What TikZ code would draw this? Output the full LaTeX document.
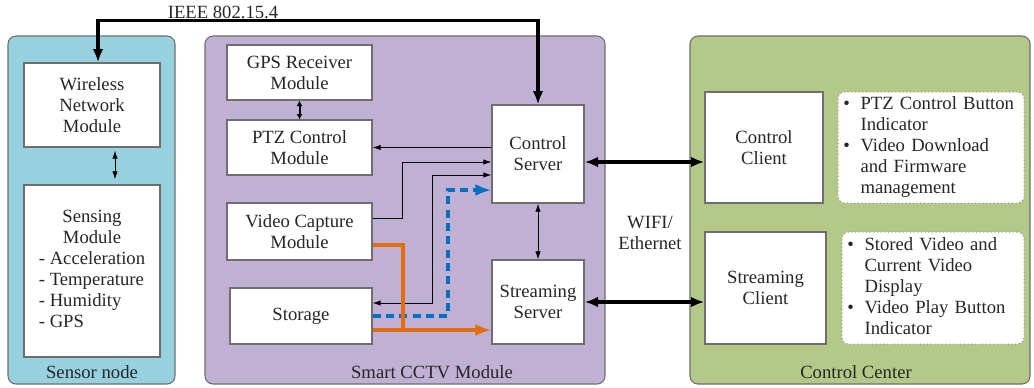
\documentclass[tikz,border=0pt]{standalone}
\usepackage{fontspec}
\setmainfont{Liberation Serif}
\usetikzlibrary{arrows.meta,calc}

\definecolor{sensorblue}{RGB}{151,208,222}
\definecolor{cctvpurple}{RGB}{192,176,211}
\definecolor{centergreen}{RGB}{180,201,136}
\definecolor{flowblue}{RGB}{0,112,192}
\definecolor{floworange}{RGB}{228,108,10}
\definecolor{edgegray}{RGB}{110,110,110}

\tikzset{every picture/.style={line width=0.75pt}}
\tikzset{
  txt/.style={font=\fontsize{14}{15.75}\selectfont, text=black!85},
  panel/.style={draw=edgegray, rounded corners=6pt, line width=0.8pt},
  title/.style={txt, inner sep=0.75pt},
  blk/.style={txt, draw=edgegray, fill=white, line width=1pt, align=center, inner sep=2pt},
  modbox/.style={blk, minimum width=108.75pt, minimum height=41.25pt},
  note/.style={txt, draw=black!45, dotted, fill=white, rounded corners=5pt, align=left, inner xsep=4pt, inner ysep=2pt},
  thinarrow/.style={line width=0.6pt, -{Latex[length=6pt,width=4pt]}},
  thinlink/.style={line width=0.6pt, {Latex[length=6pt,width=4pt]}-{Latex[length=6pt,width=4pt]}},
  midlink/.style={line width=1.5pt, {Latex[length=4pt,width=4.5pt]}-{Latex[length=4pt,width=4.5pt]}},
  biglink/.style={line width=2.4pt, {Latex[length=10pt,width=8pt]}-{Latex[length=10pt,width=8pt]}},
  bluelink/.style={draw=flowblue, line width=2.8pt, dash pattern=on 6pt off 4pt, -{Latex[length=12pt,width=9pt]}},
  orangelink/.style={draw=floworange, line width=2.8pt, -{Latex[length=12pt,width=9pt]}},
  orangeline/.style={draw=floworange, line width=2.8pt}
}

\begin{document}
\begin{tikzpicture}[x=0.75pt,y=0.75pt,yscale=-1,xscale=1]
\useasboundingbox (0,0) rectangle (1034,387);

%Panels
\draw[panel, fill=sensorblue] (8,36) rectangle (175,384);
\draw[panel, fill=cctvpurple] (205,36) rectangle (605,384);
\draw[panel, fill=centergreen] (690,36) rectangle (1030,384);

%Panel titles
\node[title] (sensortitle) at (92,372) {Sensor node};
\node[title] (cctvtitle) at (432,372) {Smart CCTV Module};
\node[title] (centertitle) at (856,372) {Control Center};

%Sensor node
\node[blk, minimum width=102pt, minimum height=63pt] (wnm) at (92,105) {Wireless\\Network\\Module};
\node[blk, minimum width=102pt, minimum height=129pt] (sensing) at (92,271) {%
  \begin{tabular}{@{}l@{}}
  \multicolumn{1}{@{}c@{}}{Sensing}\\
  \multicolumn{1}{@{}c@{}}{Module}\\
  - Acceleration\\
  - Temperature\\
  - Humidity\\
  - GPS
  \end{tabular}};

%Smart CCTV module
\node[modbox] (gps) at (299.5,72.5) {GPS Receiver\\Module};
\node[modbox] (ptz) at (299.5,147.5) {PTZ Control\\Module};
\node[modbox, minimum height=42.75pt] (vcm) at (299.5,231.5) {Video Capture\\Module};
\node[modbox, minimum width=106.5pt, minimum height=42pt] (storage) at (301,316) {Storage};
\node[blk, minimum width=69pt, minimum height=73.5pt] (cs) at (538,154) {Control\\Server};
\node[blk, minimum width=69pt, minimum height=63pt] (ss) at (538,302) {Streaming\\Server};

%Control center
\node[blk, minimum width=88.5pt, minimum height=83.25pt] (cc) at (764,147.5) {Control\\Client};
\node[blk, minimum width=90.75pt, minimum height=84pt] (sc) at (765.5,288) {Streaming\\Client};
\node[note, text width=131.5pt, minimum height=83.25pt] (ccnote) at (931,147.5) {\noindent
  \begin{tabular}{@{}l@{\hspace{8pt}}l@{}}
  \textbullet & PTZ Control Button\\
              & Indicator\\
  \textbullet & Video Download\\
              & and Firmware\\
              & management
  \end{tabular}};
\node[note, text width=128.5pt, minimum height=84pt] (scnote) at (933,288) {\noindent
  \begin{tabular}{@{}l@{\hspace{8pt}}l@{}}
  \textbullet & Stored Video and\\
              & Current Video\\
              & Display\\
  \textbullet & Video Play Button\\
              & Indicator
  \end{tabular}};

%Link labels
\node[title] (ieee) at (223,12) {IEEE 802.15.4};
\node[title, align=center] (wifi) at (650,233) {WIFI/\\Ethernet};

%Links
\draw[biglink] (cs.north) -- ++(0,-84) -| ($(wnm.north)+(6,0)$);
\draw[biglink] ($(cs.east)+(0,8)$) -- ($(cc.west)+(0,14.5)$);
\draw[biglink] (ss.east) -- (ss.east -| sc.west);
\draw[thinlink] ($(wnm.south)+(23,3)$) -- ($(sensing.north)+(23,-5)$);
\draw[midlink] (gps) -- (ptz);
\draw[thinlink] (cs) -- (ss);
\draw[thinarrow] (cs.west |- ptz.east) -- (ptz.east);
\draw[thinarrow] ($(vcm.east)+(0,-13)$) -- ++(30,0) |- ($(cs.west)+(0,8)$);
\draw[thinlink] ($(storage.east)+(0,-13)$) -- ++(60,0) |- ($(cs.west)+(0,21)$);
\draw[bluelink] (storage.east) -- ++(75,0) |- ($(cs.west)+(0,36)$);
\draw[orangelink] ($(vcm.east)+(0,13.5)$) -- ++(30,0) |- ($(ss.west)+(0,28)$);
\draw[orangeline] ($(storage.east)+(0,14)$) -- ++(30,0);

\end{tikzpicture}
\end{document}
